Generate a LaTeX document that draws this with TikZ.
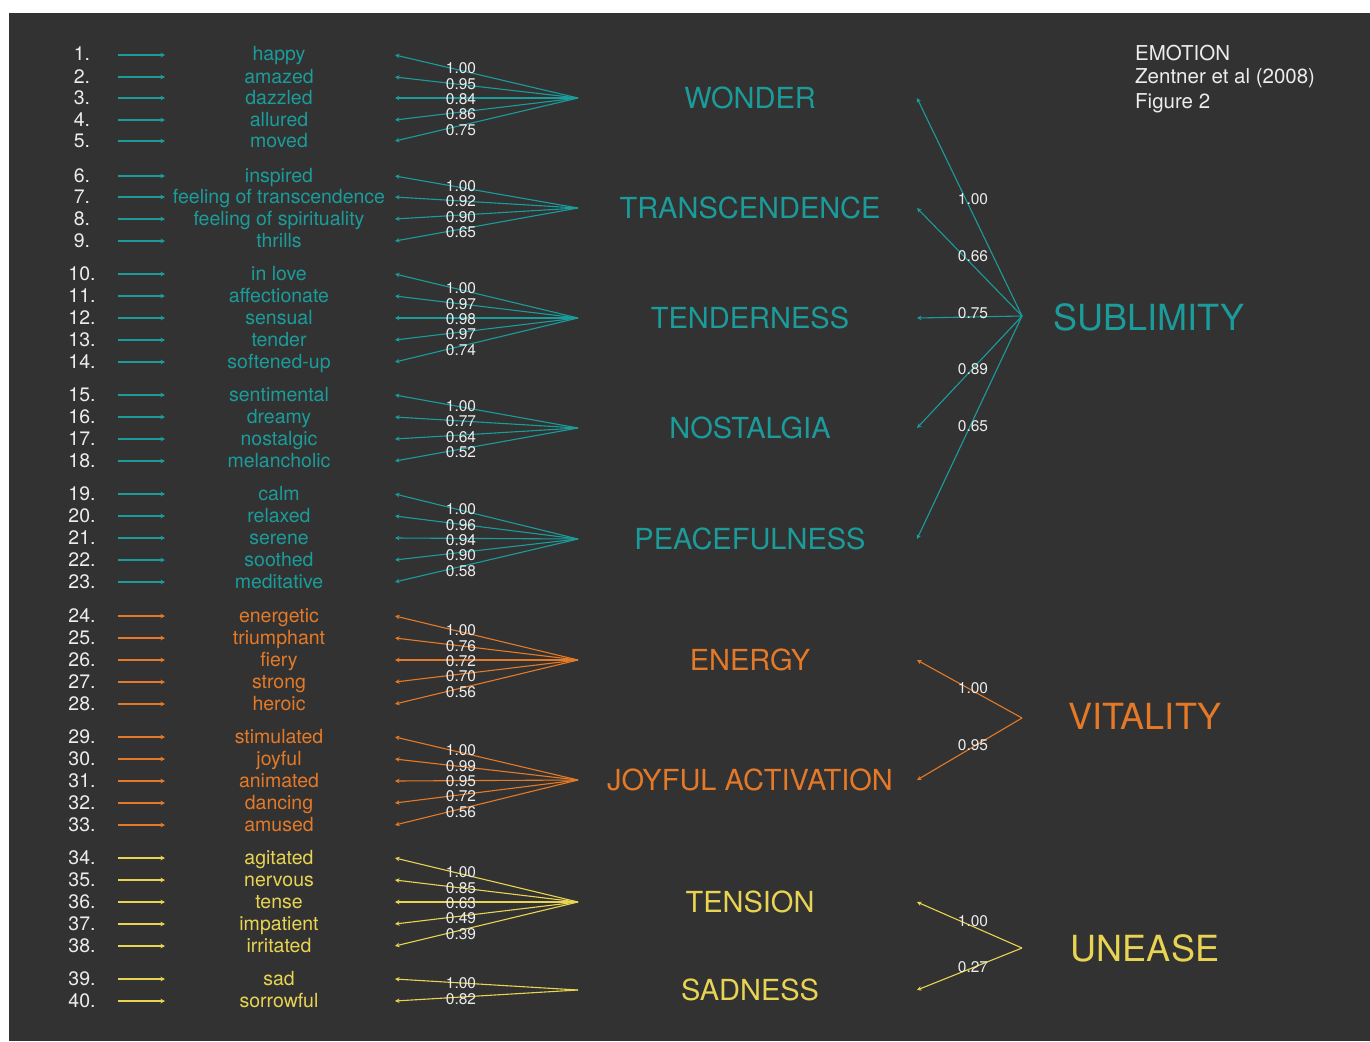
\documentclass[tikz,border=0pt]{standalone}
\usepackage{fontspec}
\setmainfont{TeX Gyre Heros}
\usetikzlibrary{arrows.meta}
\definecolor{bg}{RGB}{50,50,50}
\definecolor{tealc}{RGB}{27,156,155}
\definecolor{orangec}{RGB}{228,122,40}
\definecolor{yellowc}{RGB}{232,212,82}
\definecolor{txt}{RGB}{236,236,236}
\tikzset{
  numlabel/.style={text=txt, font=\fontsize{19.5}{22}\selectfont, anchor=base, inner sep=0pt},
  itemlabel/.style={font=\fontsize{19.5}{22}\selectfont, anchor=base, inner sep=0pt},
  factorlabel/.style={font=\fontsize{29}{32}\selectfont, anchor=base, inner sep=0pt},
  superlabel/.style={font=\fontsize{36}{40}\selectfont, anchor=base, inner sep=0pt},
  coef/.style={text=txt, font=\fontsize{15.5}{16}\selectfont, anchor=base, inner sep=0pt},
  conn/.style={line width=1.1pt, -{Stealth[length=4.5pt,width=4.5pt]}},
  note/.style={text=txt, font=\fontsize{20.5}{24}\selectfont, anchor=base west, inner sep=0pt},
}
\def\Lwonder{1/1.00,2/0.95,3/0.84,4/0.86,5/0.75}
\def\Ltranscendence{6/1.00,7/0.92,8/0.90,9/0.65}
\def\Ltenderness{10/1.00,11/0.97,12/0.98,13/0.97,14/0.74}
\def\Lnostalgia{15/1.00,16/0.77,17/0.64,18/0.52}
\def\Lpeacefulness{19/1.00,20/0.96,21/0.94,22/0.90,23/0.58}
\def\Lenergy{24/1.00,25/0.76,26/0.72,27/0.70,28/0.56}
\def\Ljoyful{29/1.00,30/0.99,31/0.95,32/0.72,33/0.56}
\def\Ltension{34/1.00,35/0.85,36/0.63,37/0.49,38/0.39}
\def\Lsadness{39/1.00,40/0.82}
\begin{document}
\begin{tikzpicture}[x=1pt,y=-1pt]
\useasboundingbox (0,0) rectangle (1370,1041);
\fill[white] (0,0) rectangle (1370,1041);
\fill[bg] (9,13) rectangle (1370,1041);

% items
\foreach \n/\y/\w/\c in {
  1/55/happy/tealc, 2/77/amazed/tealc, 3/98/dazzled/tealc, 4/120/allured/tealc, 5/141/moved/tealc,
  6/176/inspired/tealc, 7/197/feeling of transcendence/tealc, 8/219/feeling of spirituality/tealc, 9/241/thrills/tealc,
  10/274/in love/tealc, 11/296/affectionate/tealc, 12/318/sensual/tealc, 13/340/tender/tealc, 14/362/softened-up/tealc,
  15/395/sentimental/tealc, 16/417/dreamy/tealc, 17/439/nostalgic/tealc, 18/461/melancholic/tealc,
  19/494/calm/tealc, 20/516/relaxed/tealc, 21/538/serene/tealc, 22/560/soothed/tealc, 23/582/meditative/tealc,
  24/616/energetic/orangec, 25/638/triumphant/orangec, 26/660/fiery/orangec, 27/682/strong/orangec, 28/704/heroic/orangec,
  29/737/stimulated/orangec, 30/759/joyful/orangec, 31/781/animated/orangec, 32/803/dancing/orangec, 33/825/amused/orangec,
  34/858/agitated/yellowc, 35/880/nervous/yellowc, 36/902/tense/yellowc, 37/924/impatient/yellowc, 38/946/irritated/yellowc,
  39/979/sad/yellowc, 40/1001/sorrowful/yellowc}{
  \node[numlabel] (n\n) at (82,\y+6) {\n.};
  \coordinate (a\n) at (118,\y);
  \coordinate (b\n) at (165,\y);
  \draw[conn,\c] (a\n) -- (b\n);
  \node[itemlabel,text=\c] (w\n) at (279,\y+6) {\w};
  \coordinate (t\n) at (395,\y);
}

% first-order factors
\foreach \f/\fy/\lab/\c/\off in {
  wonder/98/WONDER/tealc/-30.6,
  transcendence/208/TRANSCENDENCE/tealc/-22.95,
  tenderness/318/TENDERNESS/tealc/-30.6,
  nostalgia/428/NOSTALGIA/tealc/-22.95,
  peacefulness/539/PEACEFULNESS/tealc/-30.6,
  energy/660/ENERGY/orangec/-30.6,
  joyful/780/JOYFUL ACTIVATION/orangec/-30.6,
  tension/902/TENSION/yellowc/-30.6,
  sadness/990/SADNESS/yellowc/-7.65}{
  \node[factorlabel,text=\c] (f\f) at (750,\fy+10.5) {\lab};
  \coordinate (c\f) at (578,\fy);
  \coordinate (e\f) at (917,\fy);
  \expandafter\let\expandafter\curlist\csname L\f\endcsname
  \foreach \i/\v [count=\k] in \curlist {
    \draw[conn,\c] (c\f) -- (t\i);
  }
  \foreach \i/\v [count=\k] in \curlist {
    \node[coef] (k\i) at (461,\fy+1+\off+15.3*\k-15.3+5.4) {\v};
  }
}

% second-order factors
\node[superlabel,text=tealc] (sublimity) at (1149,330) {SUBLIMITY};
\coordinate (csub) at (1022,316);
\foreach \f in {wonder,transcendence,tenderness,nostalgia,peacefulness}
  \draw[conn,tealc] (csub) -- (e\f);
\foreach \v/\y [count=\k] in {1.00/199,0.66/256,0.75/313,0.89/369,0.65/426}
  \node[coef] (s\k) at (973,\y+5.4) {\v};

\node[superlabel,text=orangec] (vitality) at (1145,729) {VITALITY};
\coordinate (cvit) at (1022,718);
\foreach \f in {energy,joyful}
  \draw[conn,orangec] (cvit) -- (e\f);
\node[coef] (v1) at (973,693.4) {1.00};
\node[coef] (v2) at (973,750.4) {0.95};

\node[superlabel,text=yellowc] (unease) at (1145,961) {UNEASE};
\coordinate (cune) at (1022,948);
\foreach \f in {tension,sadness}
  \draw[conn,yellowc] (cune) -- (e\f);
\node[coef] (u1) at (973,926.4) {1.00};
\node[coef] (u2) at (973,972.4) {0.27};

% note
\node[note] (note1) at (1135,60) {EMOTION};
\node[note] (note2) at (1135,84) {Zentner et al (2008)};
\node[note] (note3) at (1135,108) {Figure 2};
\end{tikzpicture}
\end{document}
